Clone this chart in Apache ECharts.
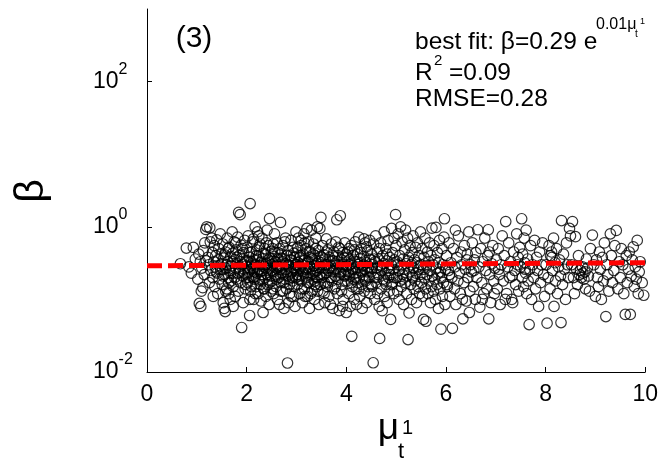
<!DOCTYPE html>
<html><head><meta charset="utf-8">
<script src="https://cdn.jsdelivr.net/npm/echarts@6/dist/echarts.min.js"></script>
<style>html,body{margin:0;padding:0;background:#fff}#c{width:661px;height:462px}</style>
</head><body><div id="c"></div>
<script>
const FONT = '"Liberation Sans", Arial, Helvetica, sans-serif';
const xTickInterval = 2;
const yTickValues = [0.01, 1, 100];
const fitLine = [[0, 0.29], [10, 0.3205]];
const betaPoints = [
[0.67,0.31],[0.79,0.51],[0.93,0.52],[0.89,0.23],[0.97,0.36],[0.84,0.28],
[1.02,0.19],[1.05,0.088],[1.08,0.08],[1.09,0.13],[1.12,0.145],[1.04,0.42],[1.07,0.33],[1.1,0.27],[1.13,0.47],[1.15,0.22],[1.16,0.6],[1.18,0.92],[1.2,1.0],[1.22,0.38],[1.24,0.3],[1.25,0.17],[1.26,0.97],[1.28,0.25],[1.3,0.7],[1.31,0.44],[1.32,0.2],[1.34,0.33],[1.35,0.55],[1.36,0.15],[1.37,0.28],[1.38,0.4],[1.4,0.66],[1.41,0.23],[1.42,0.12],[1.43,0.35],[1.44,0.5],[1.45,0.19],[1.46,0.29],[1.47,0.8],[1.48,0.26],[1.49,0.42],[1.27,0.62],[1.19,0.34],[1.33,0.11],[1.39,0.24],
[1.5,0.31],[1.51,0.16],[1.52,0.58],[1.53,0.09],[1.54,0.37],[1.55,0.075],[1.56,0.22],[1.57,0.068],[1.58,0.45],[1.59,0.27],[1.6,0.14],[1.61,0.7],[1.62,0.33],[1.63,0.2],[1.64,0.12],[1.65,0.52],[1.66,0.25],[1.67,0.1],[1.68,0.39],[1.69,0.18],[1.7,0.29],[1.71,0.85],[1.72,0.43],[1.73,0.15],[1.74,0.23],[1.75,0.62],[1.76,0.35],[1.77,0.11],[1.78,0.27],[1.79,0.48],[1.8,0.19],[1.81,0.31],[1.82,0.72],[1.83,0.13],[1.84,1.58],[1.85,0.4],[1.86,0.24],[1.87,1.47],[1.88,0.17],[1.89,0.56],[1.9,0.041],[1.91,0.3],[1.92,0.21],[1.93,0.09],[1.94,0.44],[1.95,0.26],[1.96,0.65],[1.97,0.14],[1.98,0.34],[1.99,0.2],[1.52,0.26],[1.56,0.41],[1.6,0.3],[1.64,0.17],[1.68,0.23],[1.72,0.33],[1.76,0.2],[1.8,0.38],[1.84,0.28],[1.88,0.33],[1.92,0.5],[1.96,0.23],[1.53,0.21],[1.63,0.5],[1.73,0.08],[1.83,0.23],[1.93,0.36],[1.58,0.13],[1.78,0.6],[1.98,0.16],
[2.0,0.29],[2.01,0.52],[2.02,0.17],[2.03,0.75],[2.04,0.24],[2.05,0.38],[2.06,0.06],[2.07,2.09],[2.08,0.13],[2.09,0.33],[2.1,0.45],[2.11,0.21],[2.12,0.62],[2.13,0.27],[2.14,0.1],[2.15,0.35],[2.16,0.19],[2.17,1.0],[2.18,0.3],[2.19,0.15],[2.2,0.48],[2.21,0.23],[2.22,0.85],[2.23,0.12],[2.24,0.4],[2.25,0.26],[2.26,0.18],[2.27,0.58],[2.28,0.32],[2.29,0.095],[2.3,0.22],[2.31,0.7],[2.32,0.36],[2.33,0.066],[2.34,0.14],[2.35,0.28],[2.36,0.5],[2.37,0.2],[2.38,0.42],[2.39,0.11],[2.4,0.31],[2.41,0.9],[2.42,0.16],[2.43,0.25],[2.44,0.55],[2.45,0.085],[2.46,1.3],[2.47,0.37],[2.48,0.21],[2.49,0.13],
[2.015,0.34],[2.035,0.2],[2.055,0.44],[2.075,0.26],[2.095,0.15],[2.115,0.31],[2.135,0.68],[2.155,0.24],[2.175,0.12],[2.195,0.4],[2.215,0.28],[2.235,0.19],[2.255,0.53],[2.275,0.16],[2.295,0.33],[2.315,0.25],[2.335,0.43],[2.355,0.14],[2.375,0.3],[2.395,0.6],[2.415,0.22],[2.435,0.35],[2.455,0.17],[2.475,0.27],[2.495,0.46],[2.025,0.23],[2.085,0.29],[2.145,0.2],[2.205,0.36],[2.265,0.24],[2.325,0.18],[2.385,0.27],[2.445,0.32],[2.065,0.1],[2.245,0.75],
[2.5,0.3],[2.51,0.18],[2.52,0.5],[2.53,0.24],[2.54,0.12],[2.55,0.39],[2.56,0.8],[2.57,0.21],[2.58,0.33],[2.59,0.15],[2.6,0.27],[2.61,0.6],[2.62,0.1],[2.63,0.44],[2.64,0.2],[2.65,0.35],[2.66,0.085],[2.67,0.26],[2.68,1.15],[2.69,0.17],[2.7,0.42],[2.71,0.29],[2.72,0.13],[2.73,0.55],[2.74,0.22],[2.75,0.075],[2.76,0.36],[2.77,0.19],[2.78,0.7],[2.79,0.31],[2.8,0.14],[2.81,0.24],[2.82,0.0133],[2.83,0.47],[2.84,0.09],[2.85,0.28],[2.86,0.16],[2.87,0.4],[2.88,0.23],[2.89,0.65],[2.9,0.11],[2.91,0.34],[2.92,0.2],[2.93,0.52],[2.94,0.27],[2.95,0.15],[2.96,0.38],[2.97,0.08],[2.98,0.3],[2.99,0.85],
[2.505,0.25],[2.525,0.14],[2.545,0.31],[2.565,0.45],[2.585,0.22],[2.605,0.19],[2.625,0.36],[2.645,0.28],[2.665,0.5],[2.685,0.13],[2.705,0.23],[2.725,0.33],[2.745,0.17],[2.765,0.62],[2.785,0.26],[2.805,0.4],[2.825,0.21],[2.845,0.3],[2.865,0.12],[2.885,0.35],[2.905,0.24],[2.925,0.18],[2.945,0.43],[2.965,0.26],[2.985,0.2],[2.535,0.58],[2.615,0.29],[2.695,0.37],[2.855,0.19],[2.935,0.11],
[3.0,0.25],[3.01,0.45],[3.02,0.16],[3.03,0.32],[3.04,0.7],[3.05,0.21],[3.06,0.12],[3.07,0.38],[3.08,0.27],[3.09,0.55],[3.1,0.18],[3.11,0.3],[3.12,0.09],[3.13,0.42],[3.14,0.23],[3.15,0.8],[3.16,0.14],[3.17,0.35],[3.18,0.26],[3.19,0.5],[3.2,0.2],[3.21,0.95],[3.22,0.11],[3.23,0.33],[3.24,0.62],[3.25,0.17],[3.26,0.075],[3.27,0.28],[3.28,0.44],[3.29,0.22],[3.3,0.9],[3.31,0.13],[3.32,0.36],[3.33,0.19],[3.34,0.58],[3.35,0.29],[3.36,0.1],[3.37,0.4],[3.38,0.24],[3.39,0.7],[3.4,0.15],[3.41,0.31],[3.42,1.0],[3.43,0.2],[3.44,0.47],[3.45,0.085],[3.46,0.27],[3.47,0.95],[3.48,0.16],[3.49,1.35],
[3.005,0.3],[3.025,0.52],[3.045,0.19],[3.065,0.28],[3.085,0.4],[3.105,0.14],[3.125,0.24],[3.145,0.34],[3.165,0.6],[3.185,0.21],[3.205,0.31],[3.225,0.17],[3.245,0.26],[3.265,0.46],[3.285,0.12],[3.305,0.36],[3.325,0.23],[3.345,0.29],[3.365,0.18],[3.385,0.5],[3.405,0.25],[3.425,0.13],[3.445,0.33],[3.465,0.22],[3.485,0.39],[3.015,0.22],[3.095,0.65],[3.175,0.11],[3.255,0.38],[3.335,0.42],[3.415,0.2],[3.495,0.28],[3.055,0.37],[3.215,0.27],[3.375,0.16],
[3.5,0.32],[3.51,0.2],[3.52,0.55],[3.53,0.13],[3.54,0.27],[3.55,0.41],[3.56,0.17],[3.57,0.09],[3.58,0.36],[3.59,0.23],[3.6,0.68],[3.61,0.3],[3.62,0.15],[3.63,0.48],[3.64,0.25],[3.65,0.11],[3.66,0.38],[3.67,0.2],[3.68,0.085],[3.69,0.29],[3.7,0.58],[3.71,0.18],[3.72,0.34],[3.73,0.075],[3.74,0.24],[3.75,0.45],[3.76,0.14],[3.77,0.31],[3.78,0.21],[3.79,0.62],[3.8,0.27],[3.81,1.25],[3.82,0.12],[3.83,0.4],[3.84,0.19],[3.85,0.3],[3.86,0.07],[3.87,0.5],[3.88,1.42],[3.89,0.23],[3.9,0.35],[3.91,0.16],[3.92,0.28],[3.93,0.44],[3.94,0.1],[3.95,0.22],[3.96,0.37],[3.97,0.6],[3.98,0.18],[3.99,0.26],
[3.515,0.38],[3.545,0.22],[3.575,0.3],[3.605,0.45],[3.635,0.17],[3.665,0.27],[3.695,0.2],[3.725,0.4],[3.755,0.26],[3.785,0.15],[3.815,0.33],[3.845,0.52],[3.875,0.24],[3.905,0.13],[3.935,0.3],[3.965,0.21],[3.995,0.42],[3.555,0.12],[3.745,0.34],[3.925,0.08],
[4.0,0.066],[4.01,0.29],[4.02,0.18],[4.03,0.45],[4.04,0.24],[4.05,0.12],[4.06,0.35],[4.07,0.21],[4.08,0.08],[4.09,0.31],[4.1,0.55],[4.11,0.031],[4.12,0.15],[4.13,0.27],[4.14,0.4],[4.15,0.19],[4.16,0.1],[4.17,0.33],[4.18,0.62],[4.19,0.23],[4.2,0.14],[4.21,0.28],[4.22,0.42],[4.23,0.17],[4.24,0.3],[4.25,0.72],[4.26,0.2],[4.27,0.11],[4.28,0.36],[4.29,0.25],[4.3,0.5],[4.31,0.16],[4.32,0.075],[4.33,0.29],[4.34,0.21],[4.35,0.39],[4.36,0.13],[4.37,0.26],[4.38,0.6],[4.39,0.18],[4.4,0.32],[4.41,0.09],[4.42,0.24],[4.43,0.47],[4.44,0.15],[4.45,0.28],[4.46,0.2],[4.47,0.65],[4.48,0.12],[4.49,0.35],
[4.015,0.38],[4.045,0.22],[4.075,0.3],[4.105,0.17],[4.135,0.26],[4.165,0.48],[4.195,0.2],[4.225,0.33],[4.255,0.14],[4.285,0.44],[4.315,0.24],[4.345,0.3],[4.375,0.19],[4.405,0.53],[4.435,0.27],[4.465,0.36],[4.495,0.16],[4.055,0.5],[4.205,0.085],[4.355,0.68],
[4.5,0.24],[4.51,0.42],[4.52,0.15],[4.53,0.3],[4.54,0.0134],[4.55,0.58],[4.56,0.2],[4.57,0.1],[4.58,0.33],[4.59,0.75],[4.6,0.17],[4.61,0.27],[4.62,0.45],[4.63,0.12],[4.64,0.22],[4.65,0.36],[4.66,0.08],[4.67,0.029],[4.68,0.29],[4.69,0.6],[4.7,0.14],[4.71,0.25],[4.72,0.07],[4.73,0.4],[4.74,0.19],[4.75,0.31],[4.76,0.85],[4.77,0.11],[4.78,0.23],[4.79,0.5],[4.8,0.16],[4.81,0.34],[4.82,0.09],[4.83,0.27],[4.84,0.65],[4.85,0.2],[4.86,0.13],[4.87,0.38],[4.88,0.22],[4.89,0.053],[4.9,0.3],[4.91,0.95],[4.92,0.17],[4.93,0.44],[4.94,0.26],[4.95,0.12],[4.96,0.7],[4.97,0.2],[4.98,0.32],[4.99,1.47],
[4.515,0.27],[4.565,0.36],[4.615,0.2],[4.665,0.5],[4.715,0.28],[4.765,0.18],[4.815,0.42],[4.865,0.25],[4.915,0.16],[4.965,0.35],
[5.0,0.55],[5.01,0.2],[5.02,0.33],[5.03,0.13],[5.04,0.8],[5.05,0.25],[5.06,0.1],[5.07,0.4],[5.08,0.18],[5.09,1.0],[5.1,0.29],[5.11,0.15],[5.12,0.62],[5.13,0.22],[5.14,0.36],[5.15,0.085],[5.16,0.26],[5.17,0.48],[5.18,0.17],[5.19,0.9],[5.2,0.31],[5.21,0.12],[5.22,0.21],[5.23,0.7],[5.24,0.028],[5.25,0.38],[5.26,0.065],[5.27,0.24],[5.28,0.55],[5.29,0.16],[5.3,0.3],[5.31,0.1],[5.32,0.44],[5.33,0.2],[5.34,0.75],[5.35,0.27],[5.36,0.14],[5.37,0.35],[5.38,0.18],[5.39,0.52],[5.4,0.23],[5.41,0.09],[5.42,0.32],[5.43,0.6],[5.44,0.15],[5.45,0.26],[5.46,0.4],[5.47,0.12],[5.48,0.22],[5.49,0.85],
[5.035,0.3],[5.135,0.19],[5.235,0.34],[5.335,0.21],[5.435,0.28],
[5.5,0.3],[5.51,0.17],[5.52,0.5],[5.53,0.11],[5.54,0.26],[5.55,0.053],[5.56,0.38],[5.57,0.2],[5.58,0.7],[5.59,0.14],[5.6,0.05],[5.61,0.29],[5.62,0.22],[5.63,0.45],[5.64,0.12],[5.65,0.33],[5.66,0.18],[5.67,0.6],[5.68,0.25],[5.69,0.09],[5.7,0.4],[5.71,0.15],[5.72,0.96],[5.73,0.21],[5.74,0.3],[5.75,0.13],[5.76,0.55],[5.77,0.19],[5.78,0.35],[5.79,0.1],[5.8,0.98],[5.81,0.27],[5.82,0.16],[5.83,0.44],[5.84,0.23],[5.85,0.075],[5.86,0.32],[5.87,0.65],[5.88,0.14],[5.89,0.24],[5.9,0.039],[5.91,0.2],[5.92,0.5],[5.93,0.11],[5.94,0.3],[5.95,0.17],[5.96,0.72],[5.97,1.29],[5.98,0.085],[5.99,0.26],
[6.01,0.4],[6.03,0.15],[6.05,0.25],[6.06,0.6],[6.08,0.11],[6.1,0.32],[6.12,0.2],[6.13,0.04],[6.15,0.5],[6.17,0.14],[6.18,0.28],[6.2,0.085],[6.22,0.38],[6.24,0.18],[6.25,0.75],[6.27,0.23],[6.29,0.12],[6.3,0.45],[6.32,0.3],[6.34,0.054],[6.36,0.17],[6.37,0.55],[6.39,0.26],[6.41,0.095],[6.42,0.35],[6.44,0.2],[6.46,0.85],[6.47,0.066],[6.48,0.13],[6.49,0.3],[6.07,0.22],[6.19,0.9],[6.33,0.1],[6.43,0.42],[6.02,0.16],
[6.51,0.24],[6.53,0.6],[6.55,0.15],[6.57,0.35],[6.59,0.1],[6.6,0.44],[6.62,0.2],[6.64,0.91],[6.66,0.28],[6.68,0.078],[6.7,0.5],[6.72,0.17],[6.74,0.33],[6.76,0.12],[6.78,0.7],[6.8,0.25],[6.82,0.14],[6.84,0.4],[6.85,0.91],[6.86,0.054],[6.88,0.22],[6.9,0.09],[6.92,0.31],[6.94,0.55],[6.96,0.18],[6.98,0.27],[6.56,0.25],[6.73,0.1],[6.87,0.45],[6.97,0.12],
[7.01,0.35],[7.03,0.14],[7.05,0.5],[7.07,0.22],[7.09,0.085],[7.11,0.3],[7.13,0.75],[7.15,0.18],[7.17,0.4],[7.2,1.18],[7.22,0.12],[7.24,0.28],[7.26,0.6],[7.28,0.2],[7.3,0.33],[7.32,0.1],[7.34,0.09],[7.36,0.45],[7.38,0.25],[7.4,0.16],[7.42,0.8],[7.44,0.3],[7.46,0.13],[7.48,0.52],[7.06,0.26],[7.19,0.1],[7.33,0.21],[7.45,0.38],
[7.5,0.28],[7.52,1.29],[7.53,0.2],[7.54,0.42],[7.56,0.15],[7.57,0.7],[7.58,0.32],[7.6,0.23],[7.61,0.9],[7.62,0.12],[7.64,0.36],[7.65,0.18],[7.67,0.045],[7.68,0.26],[7.7,0.55],[7.72,0.1],[7.74,0.3],[7.76,0.2],[7.78,0.65],[7.8,0.14],[7.82,0.38],[7.84,0.25],[7.86,0.08],[7.88,0.45],[7.9,0.17],[7.92,0.3],[7.94,0.6],[7.96,0.22],[7.98,0.11],[7.59,0.26],
[8.01,0.3],[8.03,0.047],[8.05,0.2],[8.07,0.55],[8.09,0.14],[8.1,0.4],[8.12,0.45],[8.13,0.38],[8.14,0.25],[8.16,0.7],[8.17,0.08],[8.19,0.32],[8.2,0.18],[8.22,0.5],[8.24,0.12],[8.26,0.28],[8.28,0.35],[8.3,0.21],[8.31,0.048],[8.32,1.22],[8.34,0.16],[8.36,0.42],[8.38,0.26],[8.4,0.1],[8.42,0.6],[8.44,0.3],[8.46,0.2],[8.48,0.95],
[8.5,0.75],[8.52,0.3],[8.54,1.18],[8.56,0.2],[8.58,0.12],[8.6,0.73],[8.62,0.26],[8.64,0.16],[8.66,0.4],[8.68,0.22],[8.7,0.25],[8.72,0.2],[8.74,0.28],[8.75,0.23],[8.77,0.19],[8.79,0.24],[8.8,0.14],[8.82,0.36],[8.84,0.27],[8.86,0.21],[8.88,0.13],[8.9,0.5],[8.94,0.77],[8.97,0.3],
[9.0,0.11],[9.02,0.35],[9.04,0.2],[9.06,0.15],[9.08,0.45],[9.1,0.26],[9.12,0.1],[9.14,0.38],[9.16,0.18],[9.18,0.6],[9.21,0.058],[9.23,0.3],[9.25,0.22],[9.27,0.13],[9.3,0.8],[9.32,0.4],[9.34,0.17],[9.37,0.25],[9.39,0.55],[9.42,0.89],[9.45,0.14],[9.48,0.33],
[9.5,0.2],[9.52,0.5],[9.55,0.3],[9.57,0.12],[9.6,0.062],[9.62,0.4],[9.64,0.17],[9.66,0.26],[9.68,0.45],[9.7,0.062],[9.72,0.21],[9.74,0.35],[9.76,0.53],[9.78,0.15],[9.8,0.28],[9.82,0.19],[9.84,0.65],[9.86,0.12],[9.88,0.24],[9.9,0.33],[9.94,0.17],[9.97,0.114]
];

function txt(text, x, y, size, align, extra) {
  align = align || 'left';
  return Object.assign({
    type: 'text', x: x, y: y, silent: true, z: 100,
    style: { text: text, font: size + 'px ' + FONT, fill: '#000',
             align: align, verticalAlign: 'middle', textAlign: align, textVerticalAlign: 'middle' }
  }, extra || {});
}

const chart = echarts.init(document.getElementById('c'), null, { renderer: 'canvas' });
chart.setOption({
  animation: false,
  backgroundColor: '#fff',
  grid: { left: 147, right: 14, top: 9, bottom: 90, containLabel: false },
  xAxis: {
    type: 'value', min: 0, max: 10, interval: xTickInterval,
    axisLine: { show: true, lineStyle: { color: '#000', width: 1 } },
    axisTick: { show: true, inside: true, length: 5, lineStyle: { color: '#000', width: 1 } },
    axisLabel: { color: '#000', fontSize: 23, fontFamily: FONT, margin: 11 },
    splitLine: { show: false }
  },
  yAxis: {
    type: 'log', logBase: 10, min: 0.01, max: 1000,
    axisLine: { show: true, lineStyle: { color: '#000', width: 1 } },
    axisTick: { show: true, inside: true, length: 5, customValues: yTickValues, lineStyle: { color: '#000', width: 1 } },
    minorTick: { show: false },
    axisLabel: {
      customValues: yTickValues, align: 'left', margin: 54,
      formatter: function (v) { return '{b|10}{s|' + Math.round(Math.log10(v)) + '}'; },
      rich: {
        b: { fontSize: 23, fontFamily: FONT, color: '#000' },
        s: { fontSize: 16, fontFamily: FONT, color: '#000', padding: [0, 0, 24, 0] }
      }
    },
    splitLine: { show: false }
  },
  series: [
    {
      type: 'scatter', data: betaPoints, symbol: 'circle', symbolSize: 10.5, silent: true,
      itemStyle: { color: 'rgba(0,0,0,0)', borderColor: '#000', borderWidth: 1.2 }
    },
    {
      type: 'line', data: fitLine, symbol: 'none', showSymbol: false, silent: true, z: 5,
      lineStyle: { color: '#ff0000', width: 5, type: [15, 6], cap: 'butt' }
    }
  ],
  graphic: [
    txt('(3)', 194, 39, 30, 'center'),
    txt('best fit: β=0.29 e', 415, 42, 24.5),
    txt('0.01μ', 596, 25, 16),
    txt('t', 635, 34, 10),
    txt('1', 640, 22, 9),
    txt('R', 415, 73, 24.5),
    txt('2', 434, 61, 15),
    txt('=0.09', 449, 73, 24.5),
    txt('RMSE=0.28', 415, 99, 24.5),
    txt('μ', 388.5, 429, 37, 'center'),
    txt('t', 398, 452, 22),
    txt('1', 402, 428, 20),
    txt('β', 31.5, 191, 41, 'center', { rotation: Math.PI / 2 })
  ]
});
</script>
</body></html>
